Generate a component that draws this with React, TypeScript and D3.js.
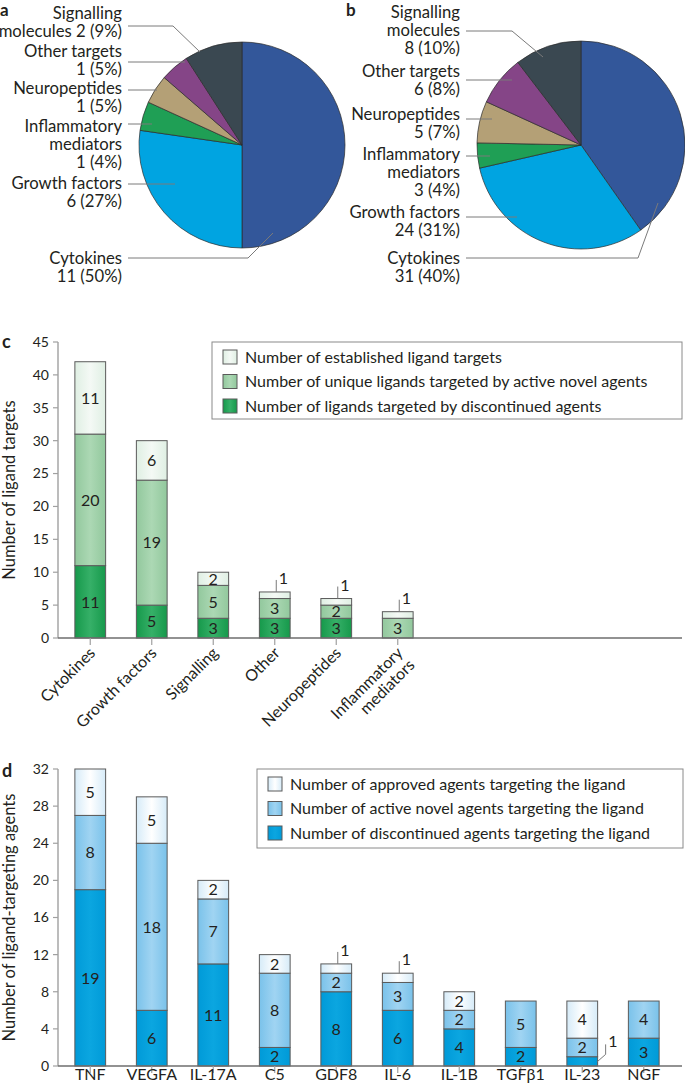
import React from 'react';
import * as d3 from 'd3';

// ---------- DATA ----------
const pieCategories = ['Cytokines', 'Growth factors', 'Inflammatory mediators', 'Neuropeptides', 'Other targets', 'Signalling molecules'];
const pieANameLines = [['Cytokines'], ['Growth factors'], ['Inflammatory', 'mediators'], ['Neuropeptides'], ['Other targets'], ['Signalling', 'molecules']];
const pieAValues = [11, 6, 1, 1, 1, 2];
const pieAPercents = [50, 27, 4, 5, 5, 9];
const pieBValues = [31, 24, 3, 5, 6, 8];
const pieBPercents = [40, 31, 4, 7, 8, 10];

const cCategories = ['Cytokines', 'Growth factors', 'Signalling', 'Other', 'Neuropeptides', 'Inflammatory mediators'];
const cLabelLines = [['Cytokines'], ['Growth factors'], ['Signalling'], ['Other'], ['Neuropeptides'], ['Inflammatory', 'mediators']];
const cDiscontinued = [11, 5, 3, 3, 3, 0];
const cActive = [20, 19, 5, 3, 2, 3];
const cEstablished = [11, 6, 2, 1, 1, 1];
const cTicks = [0, 5, 10, 15, 20, 25, 30, 35, 40, 45];
const cLegend = [
  'Number of established ligand targets',
  'Number of unique ligands targeted by active novel agents',
  'Number of ligands targeted by discontinued agents',
];

const dCategories = ['TNF', 'VEGFA', 'IL-17A', 'C5', 'GDF8', 'IL-6', 'IL-1B', 'TGFβ1', 'IL-23', 'NGF'];
const dDiscontinued = [19, 6, 11, 2, 8, 6, 4, 2, 1, 3];
const dActive = [8, 18, 7, 8, 2, 3, 2, 5, 2, 4];
const dApproved = [5, 5, 2, 2, 1, 1, 2, 0, 4, 0];
const dTicks = [0, 4, 8, 12, 16, 20, 24, 28, 32];
const dLegend = [
  'Number of approved agents targeting the ligand',
  'Number of active novel agents targeting the ligand',
  'Number of discontinued agents targeting the ligand',
];

// ---------- STYLE / LAYOUT ----------
const FONT = "Lato, 'Open Sans', 'DejaVu Sans', sans-serif";
const TXT = '#231f20';
const LEADER = '#7a7a7a';

const pieColors = [
  ['#8797c8', '#33579a'],
  ['#92d5f5', '#00a4e1'],
  ['#62be82', '#1f9f55'],
  ['#d3c5a9', '#b4a076'],
  ['#b388bb', '#854587'],
  ['#73858f', '#3a4851'],
];

const pieALayout = {
  cx: 242, cy: 145, r: 103, textX: 122, inlineLast: [false, false, false, false, false, true],
  labels: [
    { y: 264, lineY: 258, elbowDx: 6, end: [31, 88] },
    { y: 189, lineY: 184, end: [-67, null] },
    { y: 132, lineY: 124, end: [-90, null] },
    { y: 94, lineY: 90, end: [-85, null] },
    { y: 57, lineY: 62, end: [-57, null] },
    { y: 19, lineY: 26, elbowDx: -69, end: [-42, -93] },
  ],
};
const pieBLayout = {
  cx: 581, cy: 145, r: 104, textX: 460, inlineLast: [false, false, false, false, false, false],
  labels: [
    { y: 264, lineY: 258, elbowDx: 57, end: [77, 58] },
    { y: 218, lineY: 217, end: [-64, null] },
    { y: 160, lineY: 156, end: [-91, null] },
    { y: 120, lineY: 119, end: [-89, null] },
    { y: 77, lineY: 80, end: [-69, null] },
    { y: 18, lineY: 31, elbowDx: -69, end: [-38, -88] },
  ],
};

const LINE_H = 18;

function PieChart({ id, values, percents, layout }: any) {
  const { cx, cy, r, textX, labels, inlineLast } = layout;
  const pie = d3.pie<number>().sort(null).startAngle(0).endAngle(2 * Math.PI);
  const arcs = pie(values);
  const arc = d3.arc<any>().innerRadius(0).outerRadius(r);
  return (
    <g>
      <defs>
        {pieColors.map((c, i) => (
          <radialGradient key={i} id={`${id}-g${i}`} gradientUnits="userSpaceOnUse" cx={cx + 12} cy={cy + 6} r={r * 1.05}>
            <stop offset="0%" stopColor={c[0]} />
            <stop offset="100%" stopColor={c[1]} />
          </radialGradient>
        ))}
      </defs>
      <g transform={`translate(${cx},${cy})`}>
        {arcs.map((a, i) => (
          <path key={i} d={arc(a) as string} fill={`url(#${id}-g${i})`} stroke="#2b2b2b" strokeWidth={0.7} strokeLinejoin="round" />
        ))}
      </g>
      {labels.map((lab: any, i: number) => {
        const lines = pieANameLines[i].slice();
        const valStr = `${values[i]} (${percents[i]}%)`;
        if (inlineLast[i]) lines[lines.length - 1] = lines[lines.length - 1] + ' ' + valStr;
        else lines.push(valStr);
        const x0 = textX + 6;
        const endX = cx + lab.end[0];
        const endY = lab.end[1] === null ? lab.lineY : cy + lab.end[1];
        let pts: [number, number][] = [[x0, lab.lineY]];
        if (lab.elbowDx !== undefined) pts.push([cx + lab.elbowDx, lab.lineY]);
        pts.push([endX, endY]);
        return (
          <g key={i}>
            <polyline points={pts.map((p) => p.join(',')).join(' ')} fill="none" stroke={LEADER} strokeWidth={1} />
            <text x={textX} y={lab.y} textAnchor="end" fontFamily={FONT} fontSize={16.7} fill={TXT}>
              {lines.map((l, j) => (
                <tspan key={j} x={textX} y={lab.y + j * LINE_H}>{l}</tspan>
              ))}
            </text>
          </g>
        );
      })}
    </g>
  );
}

function StackedBars(props: any) {
  const { id, categories, series, colors, yMax, ticks, yTop, yBottom, step, rotate, labelLines, legend, legendBox, title } = props;
  const n = categories.length;
  const x0 = 59.5;
  const axisX = 58;
  const x = d3.scaleBand<string>().domain(categories).range([x0, x0 + n * step]).paddingInner(0.5).paddingOuter(0.25);
  const y = d3.scaleLinear().domain([0, yMax]).range([yBottom, yTop]);
  const keys = series.map((_: any, i: number) => `s${i}`);
  const table = categories.map((c: string, ci: number) => {
    const o: any = { cat: c };
    series.forEach((s: number[], si: number) => (o[`s${si}`] = s[ci]));
    return o;
  });
  const stacked = d3.stack<any>().keys(keys)(table);
  const bw = x.bandwidth();
  const topIndex = categories.map((_: string, ci: number) => {
    let t = -1;
    series.forEach((s: number[], si: number) => { if (s[ci] > 0) t = si; });
    return t;
  });
  return (
    <g>
      <defs>
        {colors.map((c: string[], i: number) => (
          <linearGradient key={i} id={`${id}-b${i}`} x1="0" x2="1" y1="0" y2="0">
            <stop offset="0%" stopColor={c[1]} />
            <stop offset="50%" stopColor={c[0]} />
            <stop offset="100%" stopColor={c[1]} />
          </linearGradient>
        ))}
      </defs>
      {/* y axis */}
      <line x1={axisX} x2={axisX} y1={yTop} y2={yBottom} stroke="#a0a0a0" strokeWidth={1.4} />
      {ticks.map((t: number) => (
        <g key={t}>
          <line x1={axisX - 5} x2={axisX} y1={y(t)} y2={y(t)} stroke="#a0a0a0" strokeWidth={1.2} />
          <text x={axisX - 9} y={y(t)} dy="0.35em" textAnchor="end" fontFamily={FONT} fontSize={14} fill={TXT}>{t}</text>
        </g>
      ))}
      <text transform={`translate(15,${(yTop + yBottom) / 2}) rotate(-90)`} textAnchor="middle" fontFamily={FONT} fontSize={16.5} fill={TXT}>{title}</text>
      {/* bars */}
      {stacked.map((layer: any, si: number) =>
        layer.map((d: any, ci: number) => {
          const v = d[1] - d[0];
          if (v <= 0) return null;
          const bx = x(categories[ci]) as number;
          const yt = y(d[1]);
          const yb = y(d[0]);
          return (
            <rect key={`${si}-${ci}`} x={bx} y={yt} width={bw} height={yb - yt} fill={`url(#${id}-b${si})`} stroke="#5a5a5a" strokeWidth={1} />
          );
        })
      )}
      {/* segment labels */}
      {stacked.map((layer: any, si: number) =>
        layer.map((d: any, ci: number) => {
          const v = d[1] - d[0];
          if (v <= 0) return null;
          const bx = x(categories[ci]) as number;
          const cxm = bx + bw / 2;
          const yt = y(d[1]);
          const yb = y(d[0]);
          if (v === 1) {
            if (si === topIndex[ci]) {
              const lx = cxm + 1.5;
              return (
                <g key={`l${si}-${ci}`}>
                  <line x1={lx} x2={lx} y1={yt} y2={yt - 12} stroke={LEADER} strokeWidth={1} />
                  <text x={lx + 2.5} y={yt - 8} fontFamily={FONT} fontSize={16} fill={TXT}>{v}</text>
                </g>
              );
            }
            const sx = bx + bw;
            const sy = (yt + yb) / 2;
            return (
              <g key={`l${si}-${ci}`}>
                <polyline points={`${sx},${sy} ${sx + 8},${sy - 7} ${sx + 8},${sy - 17}`} fill="none" stroke={LEADER} strokeWidth={1} />
                <text x={sx + 10.5} y={sy - 14} fontFamily={FONT} fontSize={16} fill={TXT}>{v}</text>
              </g>
            );
          }
          return (
            <text key={`l${si}-${ci}`} x={cxm} y={(yt + yb) / 2} dy="0.36em" textAnchor="middle" fontFamily={FONT} fontSize={16} fill={TXT}>{v}</text>
          );
        })
      )}
      {/* x axis */}
      <line x1={axisX} x2={682} y1={yBottom} y2={yBottom} stroke="#6e6e6e" strokeWidth={1.4} />
      {categories.map((c: string, ci: number) => {
        const cxm = (x(c) as number) + bw / 2;
        return (
          <g key={c}>
            <line x1={cxm} x2={cxm} y1={yBottom} y2={yBottom + 7} stroke="#a0a0a0" strokeWidth={1.2} />
            {rotate ? (
              <text transform={`translate(${cxm + 6},${yBottom + 16}) rotate(-45)`} textAnchor="end" fontFamily={FONT} fontSize={16} fill={TXT}>
                {labelLines[ci].map((l: string, j: number) => (
                  <tspan key={j} x={0} y={j * 17}>{l}</tspan>
                ))}
              </text>
            ) : (
              <text x={cxm} y={yBottom + 14} textAnchor="middle" fontFamily={FONT} fontSize={16} fill={TXT}>{c}</text>
            )}
          </g>
        );
      })}
      {/* legend */}
      <rect x={legendBox.x} y={legendBox.y} width={legendBox.w} height={legendBox.h} fill="#fff" stroke="#8a8a8a" strokeWidth={1} />
      {legend.map((l: string, i: number) => {
        const si = series.length - 1 - i;
        const ry = legendBox.y + 15 + i * 24.5;
        return (
          <g key={i}>
            <rect x={legendBox.x + 11} y={ry - 7} width={14} height={14} fill={`url(#${id}-b${si})`} stroke="#5a5a5a" strokeWidth={1} />
            <text x={legendBox.x + 33} y={ry} dy="0.36em" fontFamily={FONT} fontSize={16} fill={TXT}>{l}</text>
          </g>
        );
      })}
    </g>
  );
}

export default function App() {
  return (
    <svg width={685} height={1092} viewBox="0 0 685 1092" style={{ position: 'absolute', left: 0, top: 0, background: '#fff' }}>
      <rect x={0} y={0} width={685} height={1092} fill="#fff" />
      <text x={0} y={16} fontFamily={FONT} fontWeight="bold" fontSize={17} fill={TXT}>a</text>
      <text x={346} y={16} fontFamily={FONT} fontWeight="bold" fontSize={17} fill={TXT}>b</text>
      <text x={2} y={348} fontFamily={FONT} fontWeight="bold" fontSize={18} fill={TXT}>c</text>
      <text x={2} y={777} fontFamily={FONT} fontWeight="bold" fontSize={18} fill={TXT}>d</text>

      <PieChart id="pa" values={pieAValues} percents={pieAPercents} layout={pieALayout} />
      <PieChart id="pb" values={pieBValues} percents={pieBPercents} layout={pieBLayout} />

      <StackedBars
        id="c"
        categories={cCategories}
        series={[cDiscontinued, cActive, cEstablished]}
        colors={[['#36b068', '#16994b'], ['#acd8b4', '#92c89d'], ['#f4f9f5', '#dfefe3']]}
        yMax={45}
        ticks={cTicks}
        yTop={342}
        yBottom={638}
        step={61.5}
        rotate={true}
        labelLines={cLabelLines}
        legend={cLegend}
        legendBox={{ x: 212, y: 342, w: 470, h: 77 }}
        title="Number of ligand targets"
      />
      <StackedBars
        id="d"
        categories={dCategories}
        series={[dDiscontinued, dActive, dApproved]}
        colors={[['#0ba6e0', '#009ad8'], ['#a0d4f2', '#7ac2ea'], ['#ffffff', '#d6ebf8']]}
        yMax={32}
        ticks={dTicks}
        yTop={769}
        yBottom={1066}
        step={61.5}
        rotate={false}
        labelLines={null}
        legend={dLegend}
        legendBox={{ x: 257, y: 769, w: 426, h: 79 }}
        title="Number of ligand-targeting agents"
      />
    </svg>
  );
}
